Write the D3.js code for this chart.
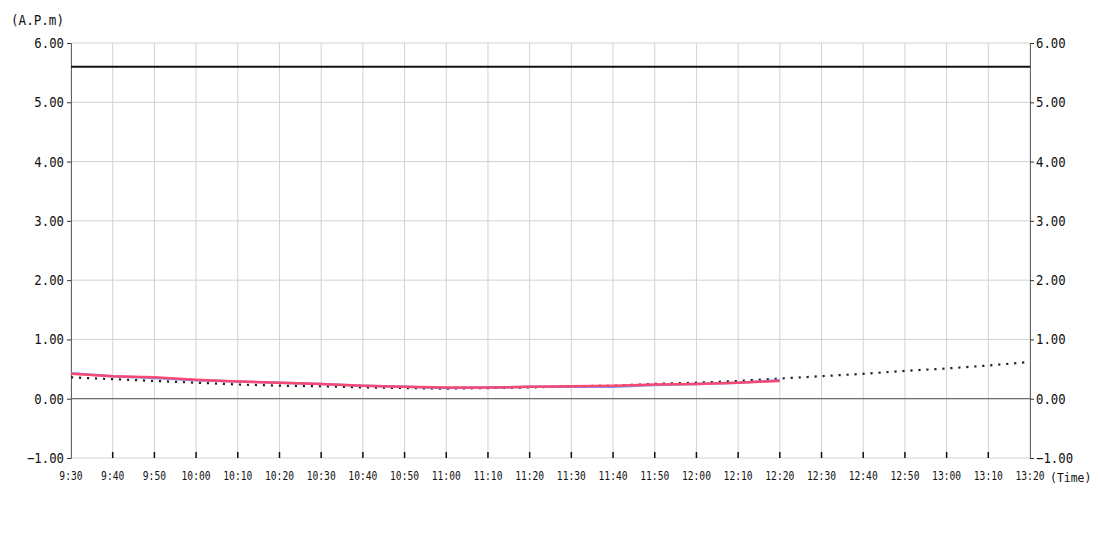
<!DOCTYPE html>
<html>
<head>
<meta charset="utf-8">
<script src="https://cdn.jsdelivr.net/npm/d3@7"></script>
<style>
  body { margin: 0; background: #fff; }
  svg text { font-family: "DejaVu Sans Mono", monospace; fill: #111; }
</style>
</head>
<body>
<svg id="chart" width="1100" height="550"></svg>
<script>
// time labels, every 10 minutes
var times = ['9:30', '9:40', '9:50', '10:00', '10:10', '10:20', '10:30', '10:40',
  '10:50', '11:00', '11:10', '11:20', '11:30', '11:40', '11:50', '12:00',
  '12:10', '12:20', '12:30', '12:40', '12:50', '13:00', '13:10', '13:20']

var yTicks = [-1, 0, 1, 2, 3, 4, 5, 6]

// measured values
var blueValues = [0.43, 0.38, 0.35, 0.31, 0.29, 0.27, 0.25, 0.22, 0.20, 0.18,
  0.19, 0.20, 0.20, 0.20, 0.23, 0.25, 0.27, 0.31]
var redValues = [0.42, 0.38, 0.36, 0.32, 0.29, 0.27, 0.25, 0.22, 0.20, 0.19,
  0.19, 0.20, 0.21, 0.22, 0.24, 0.25, 0.27, 0.30]
var dottedValues = [0.36, 0.33, 0.30, 0.27, 0.24, 0.22, 0.21, 0.19, 0.18, 0.17,
  0.18, 0.19, 0.21, 0.22, 0.25, 0.27, 0.30, 0.34, 0.38, 0.42, 0.47, 0.51,
  0.56, 0.62]
var limitValue = 5.6

var m = {left: 71, right: 70, top: 43, bottom: 92}
var svg = d3.select('#chart')
var w = 1100 - m.left - m.right
var h = 550 - m.top - m.bottom
var g = svg.append('g').attr('transform', `translate(${m.left},${m.top})`)

var x = d3.scalePoint().domain(times).range([0, w])
var y = d3.scaleLinear().domain([-1, 6]).range([h, 0])

// grid
g.append('g').selectAll('line.v').data(times).join('line')
    .attr('x1', d => x(d)).attr('x2', d => x(d))
    .attr('y1', 0).attr('y2', h)
    .attr('stroke', '#d2d2d2').attr('stroke-width', 1)
g.append('g').selectAll('line.h').data(yTicks).join('line')
    .attr('x1', 0).attr('x2', w)
    .attr('y1', d => y(d)).attr('y2', d => y(d))
    .attr('stroke', '#d2d2d2').attr('stroke-width', 1)

// zero line
g.append('line')
    .attr('x1', 0).attr('x2', w)
    .attr('y1', y(0)).attr('y2', y(0))
    .attr('stroke', '#555').attr('stroke-width', 1)

// x ticks pointing up from the bottom
g.append('g').selectAll('line').data(times.slice(1, -1)).join('line')
    .attr('x1', d => x(d)).attr('x2', d => x(d))
    .attr('y1', h).attr('y2', h - 6)
    .attr('stroke', '#111').attr('stroke-width', 1.5)

var fmt = d3.format('.2f')

// left axis
var left = g.append('g')
    .call(d3.axisLeft(y).tickValues(yTicks).tickSize(4).tickFormat(fmt))
left.select('.domain').attr('stroke', '#666')
left.selectAll('.tick line').attr('stroke', '#333')
left.selectAll('text')
    .attr('fill', '#111').attr('font-size', 14)
    .attr('font-family', '"DejaVu Sans Mono", monospace')
    .attr('x', -7 / 0.88)
    .attr('transform', 'scale(0.88,1)')

// right axis
var right = g.append('g').attr('transform', `translate(${w},0)`)
    .call(d3.axisRight(y).tickValues(yTicks).tickSize(4).tickFormat(fmt))
right.select('.domain').attr('stroke', '#666')
right.selectAll('.tick line').attr('stroke', '#333')
right.selectAll('text')
    .attr('fill', '#111').attr('font-size', 14)
    .attr('font-family', '"DejaVu Sans Mono", monospace')
    .attr('x', 6 / 0.88)
    .attr('transform', 'scale(0.88,1)')

// x labels
g.append('g').selectAll('text').data(times).join('text')
    .attr('transform', d => `translate(${x(d)},${h + 22}) scale(0.84,1)`)
    .attr('text-anchor', 'middle')
    .attr('font-size', 11.5)
    .text(d => d)

svg.append('text')
    .attr('transform', 'translate(11,25) scale(0.9,1)')
    .attr('font-size', 14)
    .text('(A.P.m)')
svg.append('text')
    .attr('transform', 'translate(1050,482) scale(0.88,1)')
    .attr('font-size', 13)
    .text('(Time)')

// series
var line = d3.line().x((d, i) => x(times[i])).y(d => y(d))

g.append('path').datum(times.map(() => limitValue))
    .attr('d', line).attr('fill', 'none')
    .attr('stroke', '#111').attr('stroke-width', 2)

g.append('path').datum(dottedValues)
    .attr('d', line).attr('fill', 'none')
    .attr('stroke', '#222').attr('stroke-width', 2.2)
    .attr('stroke-dasharray', '2.2,5.8')

g.append('path').datum(blueValues)
    .attr('d', line).attr('fill', 'none')
    .attr('stroke', '#6f7dff').attr('stroke-width', 2.5)
    .attr('stroke-opacity', 0.85)

g.append('path').datum(redValues)
    .attr('d', line).attr('fill', 'none')
    .attr('stroke', '#ff4466').attr('stroke-width', 2.5)
    .attr('stroke-opacity', 0.93)
</script>
</body>
</html>
